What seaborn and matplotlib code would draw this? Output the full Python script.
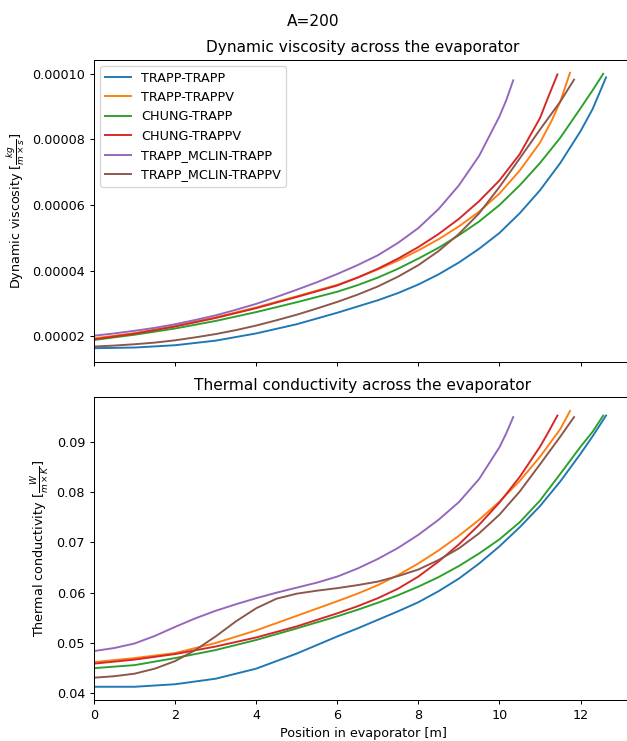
import matplotlib
matplotlib.use("Agg")
import matplotlib.pyplot as plt
import seaborn as sns
import pandas as pd
from matplotlib.ticker import FormatStrFormatter, MultipleLocator

# ---------------- data ----------------
labels = ["TRAPP-TRAPP", "TRAPP-TRAPPV", "CHUNG-TRAPP", "CHUNG-TRAPPV",
          "TRAPP_MCLIN-TRAPP", "TRAPP_MCLIN-TRAPPV"]
colors = ["#1f77b4", "#ff7f0e", "#2ca02c", "#d62728", "#9467bd", "#8c564b"]

VISC_UNIT = 1e-5  # viscosity lists are in units of 1e-5 kg/(m s)

# TRAPP-TRAPP
x_tt = [0, 1, 2, 3, 4, 5, 6, 6.5, 7, 7.5, 8, 8.5, 9, 9.5, 10, 10.5, 11, 11.5, 12, 12.3, 12.63]
visc_tt = [1.64, 1.66, 1.73, 1.87, 2.09, 2.37, 2.72, 2.91, 3.10, 3.32, 3.58, 3.89, 4.25, 4.67,
           5.15, 5.75, 6.45, 7.28, 8.25, 8.93, 9.89]
cond_tt = [0.0413, 0.0413, 0.0418, 0.0429, 0.0449, 0.0479, 0.0513, 0.0529, 0.0546, 0.0563,
           0.0581, 0.0603, 0.0628, 0.0658, 0.0692, 0.0730, 0.0772, 0.0821, 0.0876, 0.0911, 0.0952]

# TRAPP-TRAPPV
x_ttv = [0, 1, 2, 3, 4, 5, 6, 6.5, 7, 7.5, 8, 8.5, 9, 9.5, 10, 10.5, 11, 11.3, 11.5, 11.74]
visc_ttv = [1.94, 2.10, 2.32, 2.58, 2.88, 3.22, 3.57, 3.79, 4.04, 4.31, 4.62, 4.96, 5.35, 5.80,
            6.35, 7.05, 7.90, 8.60, 9.15, 10.03]
cond_ttv = [0.0462, 0.0470, 0.0480, 0.0500, 0.0525, 0.0554, 0.0583, 0.0598, 0.0615, 0.0635,
            0.0658, 0.0684, 0.0713, 0.0745, 0.0781, 0.0822, 0.0870, 0.0903, 0.0925, 0.0961]

# CHUNG-TRAPP
x_ct = [0, 1, 2, 3, 4, 5, 6, 6.5, 7, 7.5, 8, 8.5, 9, 9.5, 10, 10.5, 11, 11.5, 12, 12.3, 12.56]
visc_ct = [1.89, 2.05, 2.24, 2.47, 2.74, 3.04, 3.36, 3.56, 3.79, 4.06, 4.37, 4.70, 5.08, 5.50,
           6.00, 6.60, 7.28, 8.05, 8.95, 9.50, 10.0]
cond_ct = [0.0450, 0.0456, 0.0470, 0.0486, 0.0506, 0.0529, 0.0553, 0.0566, 0.0580, 0.0595,
           0.0612, 0.0631, 0.0653, 0.0678, 0.0706, 0.0740, 0.0783, 0.0836, 0.0890, 0.0920, 0.0952]

# CHUNG-TRAPPV
x_ctv = [0, 1, 2, 3, 4, 5, 6, 6.5, 7, 7.5, 8, 8.5, 9, 9.5, 10, 10.5, 11, 11.2, 11.43]
visc_ctv = [1.91, 2.08, 2.30, 2.56, 2.86, 3.20, 3.55, 3.79, 4.06, 4.37, 4.72, 5.12, 5.58, 6.12,
            6.75, 7.55, 8.65, 9.28, 9.98]
cond_ctv = [0.0459, 0.0467, 0.0478, 0.0493, 0.0511, 0.0533, 0.0559, 0.0573, 0.0589, 0.0608,
            0.0632, 0.0662, 0.0696, 0.0735, 0.0779, 0.0830, 0.0890, 0.0918, 0.0952]

# TRAPP_MCLIN-TRAPP
x_mt = [0, 0.5, 1, 1.5, 2, 2.5, 3, 3.5, 4, 4.5, 5, 5.5, 6, 6.5, 7, 7.5, 8, 8.5, 9, 9.5, 10,
        10.17, 10.34]
visc_mt = [2.02, 2.09, 2.17, 2.26, 2.37, 2.50, 2.64, 2.81, 2.99, 3.20, 3.42, 3.65, 3.90, 4.17,
           4.47, 4.85, 5.30, 5.88, 6.60, 7.50, 8.70, 9.20, 9.80]
cond_mt = [0.0484, 0.0490, 0.0499, 0.0514, 0.0532, 0.0549, 0.0564, 0.0577, 0.0589, 0.0600,
           0.0610, 0.0620, 0.0632, 0.0648, 0.0667, 0.0689, 0.0715, 0.0745, 0.0780, 0.0826,
           0.0889, 0.0917, 0.0949]

# TRAPP_MCLIN-TRAPPV
x_mtv = [0, 0.5, 1, 1.5, 2, 2.5, 3, 3.5, 4, 4.5, 5, 5.5, 6, 6.5, 7, 7.5, 8, 8.5, 9, 9.5, 10,
         10.5, 11, 11.5, 11.84]
visc_mtv = [1.69, 1.72, 1.76, 1.81, 1.88, 1.97, 2.07, 2.19, 2.33, 2.49, 2.66, 2.85, 3.05, 3.27,
            3.52, 3.82, 4.17, 4.60, 5.12, 5.75, 6.55, 7.42, 8.30, 9.15, 9.82]
cond_mtv = [0.0431, 0.0434, 0.0439, 0.0449, 0.0464, 0.0486, 0.0513, 0.0543, 0.0569, 0.0588,
            0.0598, 0.0604, 0.0609, 0.0615, 0.0622, 0.0633, 0.0646, 0.0665, 0.0688, 0.0718,
            0.0755, 0.0801, 0.0855, 0.0910, 0.0949]

series = [
    (x_tt, visc_tt, cond_tt),
    (x_ttv, visc_ttv, cond_ttv),
    (x_ct, visc_ct, cond_ct),
    (x_ctv, visc_ctv, cond_ctv),
    (x_mt, visc_mt, cond_mt),
    (x_mtv, visc_mtv, cond_mtv),
]

frames = []
for name, (xs, vs, cs) in zip(labels, series):
    frames.append(pd.DataFrame({"x": xs,
                                "visc": [v * VISC_UNIT for v in vs],
                                "cond": cs,
                                "model": name}))
df = pd.concat(frames, ignore_index=True)

# ---------------- figure ----------------
DPI = 92
fig = plt.figure(figsize=(627 / DPI, 741 / DPI), dpi=DPI)
W, H = 627.0, 741.0
ax1 = fig.add_axes([94 / W, (H - 362.3) / H, 538 / W, 302.3 / H])
ax2 = fig.add_axes([94 / W, (H - 700) / H, 538 / W, 302.7 / H], sharex=ax1)

for name, col in zip(labels, colors):
    sub = df[df["model"] == name]
    sns.lineplot(data=sub, x="x", y="visc", color=col, label=name, ax=ax1,
                 sort=False, estimator=None, linewidth=1.5)
    sns.lineplot(data=sub, x="x", y="cond", color=col, label=name, ax=ax2,
                 sort=False, estimator=None, linewidth=1.5, legend=False)

ax1.legend(loc="upper left")
if ax2.get_legend() is not None:
    ax2.get_legend().remove()

ax1.set_xlim(0, 13.27)
ax1.set_ylim(1.21e-5, 1.042e-4)
ax2.set_ylim(0.03867, 0.09883)
ax1.xaxis.set_major_locator(MultipleLocator(2))
ax1.yaxis.set_major_locator(MultipleLocator(2e-5))
ax1.yaxis.set_major_formatter(FormatStrFormatter("%.5f"))
ax2.yaxis.set_major_locator(MultipleLocator(0.01))
ax2.yaxis.set_major_formatter(FormatStrFormatter("%.2f"))
ax1.tick_params(labelbottom=False)

ax1.set_xlabel("")
ax2.set_xlabel("Position in evaporator [m]")
ax1.set_ylabel(r"Dynamic viscosity [$\frac{kg}{m \times s}$]")
ax2.set_ylabel(r"Thermal conductivity [$\frac{W}{m \times K}$]")
ax1.set_title("Dynamic viscosity across the evaporator")
ax2.set_title("Thermal conductivity across the evaporator")
fig.suptitle("A=200", x=0.5, y=1 - 21 / H, va="center", fontsize=12)

fig.savefig("out.png", dpi=DPI)
